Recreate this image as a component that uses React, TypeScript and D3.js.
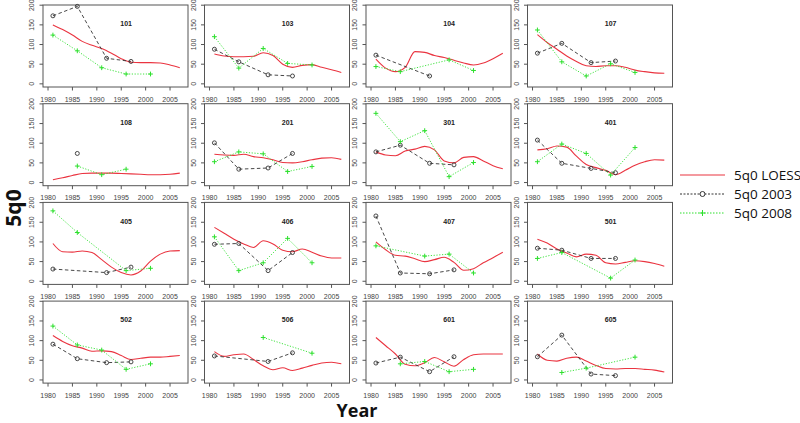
import React from "react";
import * as d3 from "d3";

// ---- data ----
const panelIds = ["101", "103", "104", "107", "108", "201", "301", "401", "405", "406", "407", "501", "502", "506", "601", "605"];

const loessYears = [1981, 1983, 1985, 1987, 1989, 1991, 1993, 1995, 1997, 1999, 2001, 2003, 2005, 2007];
const years2003 = [1981, 1986, 1992, 1997];
const years2008 = [1981, 1986, 1991, 1996, 2001];

const loessValues: number[][] = [
  [150, 138, 124, 108, 98, 90, 78, 64, 55, 54, 54, 53, 48, 41],
  [76, 71, 69, 69, 70, 79, 72, 50, 42, 47, 49, 42, 36, 29],
  [63, 40, 31, 42, 82, 80, 72, 67, 60, 53, 48, 53, 64, 78],
  [125, 105, 88, 71, 57, 46, 44, 46, 46, 42, 35, 31, 28, 27],
  [7, 12, 18, 23, 24, 24, 24, 23, 22, 21, 20, 20, 21, 24],
  [72, 70, 69, 72, 66, 63, 58, 51, 50, 53, 58, 62, 63, 59],
  [78, 70, 68, 80, 85, 92, 83, 55, 50, 64, 66, 55, 43, 35],
  [83, 86, 93, 90, 67, 46, 38, 31, 20, 31, 44, 53, 58, 57],
  [96, 75, 74, 77, 73, 55, 36, 22, 16, 26, 51, 69, 77, 78],
  [137, 122, 107, 95, 86, 103, 95, 79, 75, 82, 74, 64, 59, 59],
  [100, 80, 66, 64, 57, 50, 55, 61, 48, 28, 32, 47, 60, 74],
  [107, 97, 82, 72, 62, 69, 66, 47, 44, 48, 52, 50, 45, 38],
  [113, 98, 87, 81, 73, 74, 72, 62, 52, 55, 58, 58, 60, 62],
  [72, 60, 64, 66, 52, 36, 26, 31, 24, 30, 37, 43, 45, 41],
  [108, 87, 66, 40, 36, 44, 57, 46, 35, 52, 64, 66, 66, 66],
  [66, 50, 48, 55, 58, 48, 37, 29, 28, 29, 29, 27, 25, 20],
];

const values2003: (number | null)[][] = [
  [173, 197, 65, 57],
  [88, 56, 23, 20],
  [73, null, 20, null],
  [78, 103, 54, 58],
  [null, 74, null, null],
  [101, 34, 37, 74],
  [78, 95, 49, 45],
  [108, 49, 36, 25],
  [31, null, 22, 36],
  [94, 96, 27, 73],
  [166, 21, 19, 29],
  [84, 79, 58, 58],
  [91, 54, 44, 46],
  [61, null, 47, 69],
  [43, 58, 21, 59],
  [59, 114, 15, 11],
];

const values2008: (number | null)[][] = [
  [124, 84, 41, 25, 25],
  [120, 40, 90, 52, 48],
  [44, 31, null, 61, 34],
  [137, 56, 20, 51, 29],
  [null, 42, 20, 34, null],
  [53, 78, 73, 28, 41],
  [176, 104, 132, 15, 51],
  [53, 98, 74, 19, 89],
  [179, 124, null, 27, 33],
  [113, 27, 47, 109, 47],
  [90, null, 64, 69, 21],
  [58, 73, null, 8, 54],
  [137, 89, 76, 27, 41],
  [null, null, 108, null, 68],
  [null, 41, 47, 21, 27],
  [null, 19, 30, null, 58],
];

const xTicks = [1980, 1985, 1990, 1995, 2000, 2005];
const yTicks = [0, 50, 100, 150, 200];
const legendLabels = ["5q0 LOESS", "5q0 2003", "5q0 2008"];

// ---- styles ----
const W = 800;
const H = 423;
const PW = 145;
const PH = 82;
const RED = "#ea3440";
const BLACK = "#333";
const GREEN = "#2ee02e";
const AXIS_FONT = "Liberation Sans, Arial, sans-serif";

function pairs(years: number[], vals: (number | null)[]): [number, number][] {
  const out: [number, number][] = [];
  vals.forEach((v, i) => {
    if (v !== null && v !== undefined) out.push([years[i], v]);
  });
  return out;
}

function Plus({ x, y, s = 2.4, color }: { x: number; y: number; s?: number; color: string }) {
  return (
    <g stroke={color} strokeWidth={1}>
      <line x1={x - s} x2={x + s} y1={y} y2={y} />
      <line x1={x} x2={x} y1={y - s} y2={y + s} />
    </g>
  );
}

function Panel({ idx }: { idx: number }) {
  const col = idx % 4;
  const row = Math.floor(idx / 4);
  const left = 43 + col * 161.5;
  const top = 5 + row * 98.7;
  const x = d3.scaleLinear().domain([1978.97, 2008.68]).range([left, left + PW]);
  const y = d3.scaleLinear().domain([-8, 200.5]).range([top + PH, top]);

  const smooth = d3
    .line<[number, number]>()
    .x((d) => x(d[0]))
    .y((d) => y(d[1]))
    .curve(d3.curveMonotoneX);
  const straight = d3
    .line<[number, number]>()
    .x((d) => x(d[0]))
    .y((d) => y(d[1]));

  const lo = pairs(loessYears, loessValues[idx]);
  const p03 = pairs(years2003, values2003[idx]);
  const p08 = pairs(years2008, values2008[idx]);
  const bottom = top + PH;

  return (
    <g>
      <rect x={left} y={top} width={PW} height={PH} fill="white" stroke="#555" strokeWidth={1} />
      {xTicks.map((t) => (
        <g key={"x" + t}>
          <line x1={x(t)} x2={x(t)} y1={bottom} y2={bottom + 3.5} stroke="#555" />
          <text x={x(t)} y={bottom + 14.5} fontSize={7} textAnchor="middle" fill="#444" fontFamily={AXIS_FONT}>
            {t}
          </text>
        </g>
      ))}
      {yTicks.map((t) => (
        <g key={"y" + t}>
          <line x1={left - 3.5} x2={left} y1={y(t)} y2={y(t)} stroke="#555" />
          <text
            transform={`translate(${left - 9},${y(t)}) rotate(-90)`}
            fontSize={7}
            textAnchor="middle"
            fill="#444"
            fontFamily={AXIS_FONT}
          >
            {t}
          </text>
        </g>
      ))}
      <text
        x={x(1996)}
        y={y(153)}
        dy="0.35em"
        fontSize={7}
        fontWeight="bold"
        textAnchor="middle"
        fill="#222"
        fontFamily={AXIS_FONT}
      >
        {panelIds[idx]}
      </text>
      <path d={smooth(lo) || ""} fill="none" stroke={RED} strokeWidth={1.1} />
      <path d={straight(p03) || ""} fill="none" stroke={BLACK} strokeWidth={0.9} strokeDasharray="3.5,2.5" />
      {p03.map((d, i) => (
        <circle key={"c" + i} cx={x(d[0])} cy={y(d[1])} r={2} fill="none" stroke={BLACK} strokeWidth={0.9} />
      ))}
      <path d={straight(p08) || ""} fill="none" stroke={GREEN} strokeWidth={0.9} strokeDasharray="1.2,1.6" />
      {p08.map((d, i) => (
        <Plus key={"p" + i} x={x(d[0])} y={y(d[1])} color={GREEN} />
      ))}
    </g>
  );
}

export default function App() {
  const legX1 = 680;
  const legX2 = 725;
  const legY = [175, 194, 213];
  return (
    <svg width={W} height={H} style={{ position: "absolute", left: 0, top: 0, background: "white" }}>
      <rect x={0} y={0} width={W} height={H} fill="white" />
      {panelIds.map((_, i) => (
        <Panel key={i} idx={i} />
      ))}
      <text x={357} y={411} dy="0.35em" fontSize={18} fontWeight="bold" textAnchor="middle" fontFamily="Open Sans, sans-serif" fill="#111">
        Year
      </text>
      <text
        transform="translate(21,208) rotate(-90)"
        fontSize={21}
        fontWeight="bold"
        textAnchor="middle"
        fontFamily="Open Sans, sans-serif"
        fill="#111"
      >
        5q0
      </text>
      <line x1={legX1} x2={legX2} y1={legY[0]} y2={legY[0]} stroke={RED} strokeWidth={1.2} />
      <line x1={legX1} x2={legX2} y1={legY[1]} y2={legY[1]} stroke={BLACK} strokeWidth={1} strokeDasharray="2,1.5" />
      <circle cx={(legX1 + legX2) / 2} cy={legY[1]} r={2.5} fill="white" stroke={BLACK} strokeWidth={1} />
      <line x1={legX1} x2={legX2} y1={legY[2]} y2={legY[2]} stroke={GREEN} strokeWidth={1} strokeDasharray="1.5,1.5" />
      <Plus x={(legX1 + legX2) / 2} y={legY[2]} s={3} color={GREEN} />
      {legendLabels.map((l, i) => (
        <text key={l} x={734} y={legY[i]} dy="0.35em" fontSize={13.5} fontFamily="Open Sans, sans-serif" fill="#111">
          {l}
        </text>
      ))}
    </svg>
  );
}
